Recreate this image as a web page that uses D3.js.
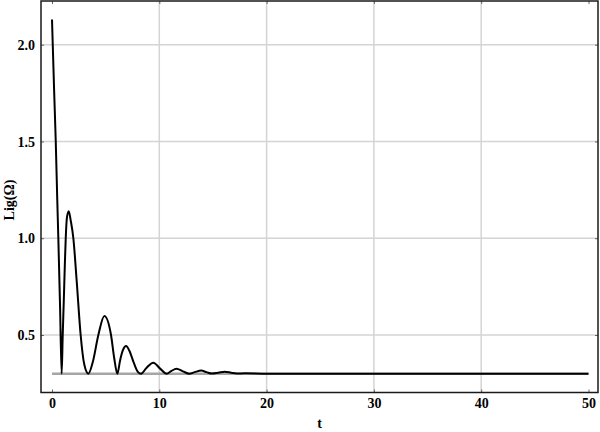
<!DOCTYPE html>
<html>
<head>
<meta charset="utf-8">
<script src="https://cdn.jsdelivr.net/npm/d3@7"></script>
<style>
  body { margin: 0; background: #fff; }
  text { font-family: "Liberation Serif", "DejaVu Serif", serif; font-weight: bold; }
</style>
</head>
<body>
<div id="chart-area"></div>
<script>
// values
const tValues = [0, 0.2, 0.35, 0.49, 0.59, 0.75, 0.9, 1.0, 1.1, 1.2, 1.28, 1.4, 1.56, 1.75, 1.99,
  2.3, 2.67, 3.0, 3.39, 3.8, 4.32, 4.88, 5.5, 5.8, 6.09, 6.35, 6.6, 6.9, 7.2, 7.6, 8.0, 8.3,
  8.8, 9.44, 10.1, 10.69, 11.1, 11.6, 12.2, 12.8, 13.3, 13.9, 14.4, 14.9, 15.5, 16.1, 16.7,
  17.2, 18, 20, 30, 40, 50]
const ligValues = [2.13, 1.76, 1.5, 1.2, 1.0, 0.65, 0.3, 0.5, 0.68, 0.87, 1.0, 1.11, 1.14, 1.09, 1.0,
  0.78, 0.5, 0.35, 0.3, 0.36, 0.5, 0.598, 0.5, 0.38, 0.3, 0.37, 0.42, 0.443, 0.42, 0.36, 0.31, 0.3,
  0.33, 0.357, 0.325, 0.3, 0.313, 0.326, 0.312, 0.3, 0.308, 0.316, 0.308, 0.301, 0.305, 0.31, 0.305,
  0.301, 0.302, 0.3, 0.3, 0.3, 0.3]
const baseT = [0, 50]
const baseValue = [0.3, 0.3]

const xTicks = [0, 10, 20, 30, 40, 50]
const yTicks = [0.5, 1.0, 1.5, 2.0]
const xGrid = [10, 20, 30, 40]
const yGrid = [0.5, 1.0, 1.5, 2.0]

const margin = {top: 1, right: 2, bottom: 39.5, left: 41}
const width = 600 - margin.left - margin.right
const height = 432 - margin.top - margin.bottom

const svg = d3.select('#chart-area')
  .append('svg')
    .attr('width', 600)
    .attr('height', 432)

const g = svg.append('g')
  .attr('transform', `translate(${margin.left},${margin.top})`)

const x = d3.scaleLinear()
  .domain([0, 50])
  .range([11, 547.5])

const y = d3.scaleLinear()
  .domain([0.5, 2.0])
  .range([334, 43.7])

// grid
g.selectAll('.vgrid')
  .data(xGrid)
  .enter().append('line')
    .attr('class', 'vgrid')
    .attr('x1', d => x(d)).attr('x2', d => x(d))
    .attr('y1', 0).attr('y2', height)
    .attr('stroke', '#d4d4d4')
    .attr('stroke-width', 1.5)

g.selectAll('.hgrid')
  .data(yGrid)
  .enter().append('line')
    .attr('class', 'hgrid')
    .attr('x1', 0).attr('x2', width)
    .attr('y1', d => y(d)).attr('y2', d => y(d))
    .attr('stroke', '#d4d4d4')
    .attr('stroke-width', 1.5)

// axes (labels + small inward frame ticks)
const xAxisCall = d3.axisBottom(x)
  .tickValues(xTicks)
  .tickFormat(d3.format('d'))
  .tickSizeInner(-3).tickSizeOuter(0)
  .tickPadding(6)

const yAxisCall = d3.axisLeft(y)
  .tickValues(yTicks)
  .tickFormat(d3.format('.1f'))
  .tickSizeInner(-3).tickSizeOuter(0)
  .tickPadding(6)

const xAxisGroup = g.append('g')
  .attr('transform', `translate(0,${height})`)
  .call(xAxisCall)
const yAxisGroup = g.append('g')
  .call(yAxisCall)
const topAxis = g.append('g')
  .call(d3.axisTop(x).tickValues(xTicks).tickSizeInner(-3).tickSizeOuter(0).tickFormat(''))
const rightAxis = g.append('g')
  .attr('transform', `translate(${width},0)`)
  .call(d3.axisRight(y).tickValues(yTicks).tickSizeInner(-3).tickSizeOuter(0).tickFormat(''))

g.selectAll('.domain').remove()
g.selectAll('.tick line').attr('stroke', '#666')
g.selectAll('.tick text')
  .attr('font-size', '14px')
  .attr('fill', '#000')
  .attr('font-family', '"Liberation Serif", serif')
  .attr('font-weight', 'bold')
yAxisGroup.selectAll('.tick text').attr('dy', '0.33em')

// baseline
const baseLine = d3.line()
  .x((d, i) => x(baseT[i]))
  .y(d => y(d))

g.append('path')
  .datum(baseValue)
  .attr('d', baseLine)
  .attr('fill', 'none')
  .attr('stroke', '#a6a6a6')
  .attr('stroke-width', 2.5)

// curve
const line = d3.line()
  .x((d, i) => x(tValues[i]))
  .y(d => y(d))
  .curve(d3.curveMonotoneX)

g.append('path')
  .datum(ligValues)
  .attr('d', line)
  .attr('fill', 'none')
  .attr('stroke', '#000')
  .attr('stroke-width', 2)
  .attr('stroke-linejoin', 'round')

// frame
g.append('rect')
  .attr('x', 0).attr('y', 0)
  .attr('width', width).attr('height', height)
  .attr('fill', 'none')
  .attr('stroke', '#1a1a1a')
  .attr('stroke-width', 1.5)

// axis labels
g.append('text')
  .attr('x', width / 2)
  .attr('y', 427)
  .attr('font-size', '14px')
  .attr('text-anchor', 'middle')
  .text('t')

g.append('text')
  .attr('x', -199)
  .attr('y', -27)
  .attr('font-size', '14px')
  .attr('text-anchor', 'middle')
  .attr('transform', 'rotate(-90)')
  .text('Lig(Ω)')
</script>
</body>
</html>
